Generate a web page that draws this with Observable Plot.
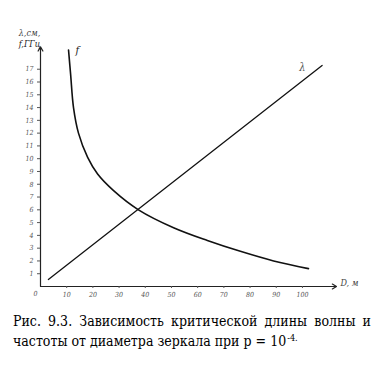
<!DOCTYPE html>
<html><head><meta charset="utf-8">
<script src="https://cdn.jsdelivr.net/npm/d3@7"></script>
<script src="https://cdn.jsdelivr.net/npm/@observablehq/plot@0.6"></script>
<style>
body{margin:0;background:#fff;}
#cap{font-family:"DejaVu Serif Condensed","DejaVu Serif",serif;font-stretch:condensed;font-size:14px;line-height:20px;width:358px;margin:3px 0 0 13px;text-align:justify;color:#000;}
#cap sup{font-size:9px;vertical-align:5px;line-height:9px;margin-left:1px;}
</style></head><body>
<div id="chart"></div>
<div id="cap">Рис. 9.3. Зависимость критической длины волны и частоты от диаметра зеркала при p = 10<sup>-4.</sup></div>
<script>
// frequency curve f (GHz) vs mirror diameter D (m)
const fD   = [10.7, 11.5, 12.6, 14.5, 18, 21.8, 27.9, 37.4, 50.8, 63.7, 76.3, 89, 102.3];
const fVal = [18.5, 16.6, 14.0, 12.0, 10.1, 8.8, 7.5, 6.0, 4.6, 3.6, 2.75, 2.0, 1.4];
// critical wavelength λ (cm) vs D
const lamD   = [3, 107.5];
const lamVal = [0.55, 17.3];
const xTicks = [10, 20, 30, 40, 50, 60, 70, 80, 90, 100];
const yTicks = [1, 2, 3, 4, 5, 6, 7, 8, 9, 10, 11, 12, 13, 14, 15, 16, 17];

const fData = fD.map((d, i) => ({D: d, v: fVal[i]}));
const lamData = lamD.map((d, i) => ({D: d, v: lamVal[i]}));
const hand = {fontFamily: "'DejaVu Serif Condensed', 'DejaVu Serif', serif", fontStyle: "italic"};

const chart = Plot.plot({
  width: 384, height: 308,
  marginLeft: 40, marginRight: 48, marginTop: 47, marginBottom: 22,
  x: {domain: [0, 113]},
  y: {domain: [0, 18.7]},
  marks: [
    Plot.arrow([{x1: 0, y1: 0, x2: 113, y2: 0}], {x1: "x1", y1: "y1", x2: "x2", y2: "y2", stroke: "#222", strokeWidth: 1.2, headLength: 6, inset: 0}),
    Plot.arrow([{x1: 0, y1: 0, x2: 0, y2: 18.75}], {x1: "x1", y1: "y1", x2: "x2", y2: "y2", stroke: "#222", strokeWidth: 1.2, headLength: 6, inset: 0}),
    Plot.axisX(xTicks, {tickSize: 2, tickPadding: 4, fontSize: 7, ...hand, fill: "#555", stroke: "#555", label: null}),
    Plot.axisY(yTicks, {tickSize: 3, tickPadding: 4, fontSize: 7, ...hand, fill: "#555", stroke: "#555", label: null}),
    Plot.text(["0"], {x: 0, y: 0, dx: -5, dy: 7, fontSize: 7, ...hand, fill: "#555"}),
    Plot.line(lamData, {x: "D", y: "v", stroke: "#111", strokeWidth: 1.3}),
    Plot.line(fData, {x: "D", y: "v", stroke: "#111", strokeWidth: 1.6, curve: "catmull-rom"}),
    Plot.text(["f"], {x: 14.1, y: 18.5, fontSize: 11, ...hand, fill: "#222"}),
    Plot.text(["λ"], {x: 100, y: 17.1, fontSize: 11, ...hand, fill: "#555"}),
    Plot.text(["D, м"], {x: 114.5, y: 0, dy: -3, textAnchor: "start", fontSize: 9, ...hand, fill: "#444", clip: false}),
    Plot.text(["λ,см,"], {x: 0, y: 18.7, dx: -11, dy: -14, fontSize: 9, ...hand, fill: "#444"}),
    Plot.text(["f,ГГц"], {x: 0, y: 18.7, dx: -11, dy: -3, fontSize: 9, ...hand, fill: "#222"})
  ]
});
document.getElementById("chart").appendChild(chart);
</script>
</body></html>
